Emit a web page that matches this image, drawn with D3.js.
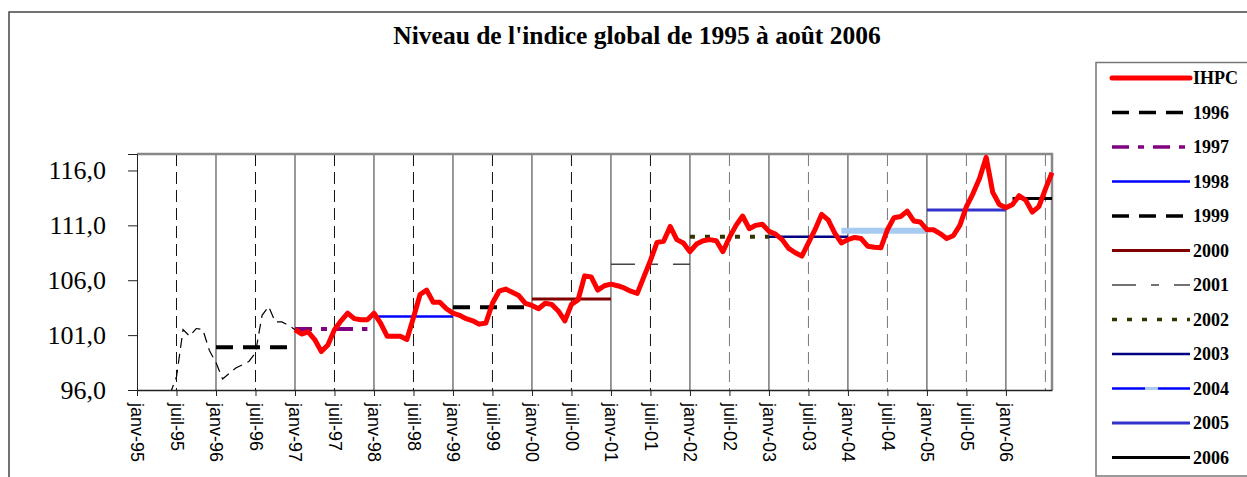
<!DOCTYPE html>
<html>
<head>
<meta charset="utf-8">
<script src="https://cdn.jsdelivr.net/npm/d3@7"></script>
<style>
  body { margin: 0; background: #fff; }
  svg { display: block; }
</style>
</head>
<body>
<div></div>
<script>
const width = 1247;
const height = 477;

// mois comptés depuis janv-95 (0)
const xTickLabels = [
  "janv-95", "juil-95", "janv-96", "juil-96", "janv-97", "juil-97",
  "janv-98", "juil-98", "janv-99", "juil-99", "janv-00", "juil-00",
  "janv-01", "juil-01", "janv-02", "juil-02", "janv-03", "juil-03",
  "janv-04", "juil-04", "janv-05", "juil-05", "janv-06"
];
const yTicks = [96, 101, 106, 111, 116];

// ancienne série (pointillé fin), de juin 95 à janv 97
const oldStart = 5;
const oldValues = [
  95.6, 97.2, 101.5, 100.9, 101.6, 101.5, 99.6, 98.5, 97.0, 97.5,
  98.0, 98.3, 98.6, 99.4, 102.8, 103.6, 102.2, 102.2, 101.9, 101.5
];

// IHPC mensuel, de janv-97 à août-06
const ihpcStart = 24;
const ihpcValues = [
  101.5, 101.1, 101.3, 100.6, 99.5, 100.1, 101.5, 102.3, 103.0, 102.5, 102.4, 102.4,
  103.0, 102.1, 100.9, 100.9, 100.9, 100.6, 102.6, 104.7, 105.1, 104.0, 104.0, 103.4,
  103.0, 102.8, 102.5, 102.3, 102.0, 102.1, 103.9, 105.0, 105.2, 104.9, 104.6, 103.9,
  103.7, 103.4, 103.9, 103.8, 103.2, 102.3, 103.8, 104.2, 106.4, 106.3, 105.1, 105.5,
  105.65, 105.5, 105.3, 105.0, 104.8, 106.3, 107.8, 109.45, 109.55, 110.9, 109.7, 109.4,
  108.6, 109.3, 109.6, 109.7, 109.6, 108.6, 109.9, 111.0, 111.85, 110.7, 111.0, 111.1,
  110.45, 110.2, 109.7, 108.9, 108.5, 108.2, 109.4, 110.6, 112.0, 111.5, 110.3, 109.4,
  109.7, 109.9, 109.8, 109.1, 109.0, 108.95, 110.6, 111.7, 111.8, 112.3, 111.4, 111.3,
  110.6, 110.6, 110.25, 109.8, 110.05, 111.0, 112.7, 113.9, 115.3, 117.2, 114.0, 112.9,
  112.6, 112.9, 113.7, 113.3, 112.2, 112.7, 114.3, 115.8
];

// moyennes annuelles
const avgYears = ["1996", "1997", "1998", "1999", "2000", "2001", "2002", "2003", "2004", "2005", "2006"];
const avgValues = [99.9, 101.55, 102.7, 103.55, 104.3, 107.45, 109.95, 109.95, 110.5, 112.4, 113.45];
const avgFrom = [12, 24, 36, 48, 60, 72, 84, 96, 107, 120, 133];
const avgTo = [23, 35, 48, 59, 72, 84, 96, 108, 120, 132, 139];

const avgStyles = {
  "1996": { color: "#000", w: 4, dash: "17,10" },
  "1997": { color: "#800080", w: 4, dash: "17,9,6,9" },
  "1998": { color: "#0000ff", w: 2.5, dash: null },
  "1999": { color: "#000", w: 4, dash: "17,10" },
  "2000": { color: "#800000", w: 3, dash: null },
  "2001": { color: "#444", w: 1.5, dash: "24,15,8,15" },
  "2002": { color: "#333300", w: 4, dash: "5,10" },
  "2003": { color: "#000080", w: 2.5, dash: null },
  "2004": { color: "#a6caf0", w: 6, dash: null },
  "2005": { color: "#3333cc", w: 3, dash: null },
  "2006": { color: "#000", w: 3, dash: null }
};

const svg = d3.select("div").append("svg")
  .attr("width", width)
  .attr("height", height);

// cadre du graphique
svg.append("rect")
  .attr("x", 9).attr("y", 12)
  .attr("width", width + 10).attr("height", height)
  .attr("fill", "none").attr("stroke", "#444").attr("stroke-width", 1.5);

svg.append("text")
  .attr("x", 637).attr("y", 44)
  .attr("text-anchor", "middle")
  .attr("font-family", "Liberation Serif, Times New Roman, serif")
  .attr("font-weight", "bold")
  .attr("font-size", 25.5)
  .text("Niveau de l'indice global de 1995 à août 2006");

const x = d3.scaleLinear().domain([0, 139]).range([137, 1052]);
const y = d3.scaleLinear().domain([96, 117.5]).range([390, 154]);

svg.append("clipPath").attr("id", "plot")
  .append("rect")
  .attr("x", x(0)).attr("y", y(117.5))
  .attr("width", x(139) - x(0)).attr("height", y(96) - y(117.5));

// grille verticale : janv en trait plein, juil en tirets
const gridMonths = d3.range(6, 139, 6);
svg.append("g").selectAll("line")
  .data(gridMonths)
  .join("line")
  .attr("x1", (d) => x(d)).attr("x2", (d) => x(d))
  .attr("y1", y(117.5)).attr("y2", y(96))
  .attr("stroke", (d) => (d % 12 === 0 ? "#333" : d >= 90 ? "#777" : "#111"))
  .attr("stroke-width", 1)
  .attr("stroke-dasharray", (d) => (d % 12 === 0 ? null : "12,6"));

// bord haut et droit de la zone de tracé
svg.append("path")
  .attr("d", `M${x(0)},${y(117.5)}H${x(139)}V${y(96)}`)
  .attr("fill", "none").attr("stroke", "#888").attr("stroke-width", 2.5);

// axe y
const yAxis = d3.axisLeft(y)
  .tickValues(yTicks)
  .tickSize(9)
  .tickPadding(22)
  .tickFormat((d) => d3.format(".1f")(d).replace(".", ","));

const gy = svg.append("g")
  .attr("transform", `translate(${x(0)},0)`)
  .call(yAxis);
gy.select(".domain").attr("stroke", "#222");
gy.selectAll(".tick line").attr("stroke", "#222");
gy.selectAll("text")
  .attr("font-family", "Liberation Serif, Times New Roman, serif")
  .attr("font-size", 26)
  .attr("fill", "#000");

// axe x
const xAxis = d3.axisBottom(x)
  .tickValues(xTickLabels.map((d, i) => i * 6))
  .tickSize(6)
  .tickSizeOuter(0)
  .tickFormat((d) => xTickLabels[d / 6]);

const gx = svg.append("g")
  .attr("transform", `translate(0,${y(96)})`)
  .call(xAxis);
gx.select(".domain").attr("stroke", "#222").attr("stroke-width", 1.5);
gx.selectAll(".tick line").attr("stroke", "#222");
gx.selectAll("text")
  .attr("font-family", "Liberation Sans, Arial, sans-serif")
  .attr("font-size", 18)
  .attr("fill", "#000")
  .attr("text-anchor", "start")
  .attr("transform", "rotate(90)")
  .attr("x", 13)
  .attr("y", 0)
  .attr("dy", "0.35em");

const plot = svg.append("g").attr("clip-path", "url(#plot)");

const line = d3.line()
  .x((d) => x(d[0]))
  .y((d) => y(d[1]));

// ancienne série
plot.append("path")
  .datum(oldValues.map((v, i) => [oldStart + i, v]))
  .attr("d", line)
  .attr("fill", "none")
  .attr("stroke", "#000")
  .attr("stroke-width", 1.2)
  .attr("stroke-dasharray", "10,6");

// moyennes annuelles
svg.append("g").selectAll("line")
  .data(avgYears)
  .join("line")
  .attr("x1", (d, i) => x(avgFrom[i]))
  .attr("x2", (d, i) => x(avgTo[i]))
  .attr("y1", (d, i) => y(avgValues[i]))
  .attr("y2", (d, i) => y(avgValues[i]))
  .attr("stroke", (d) => avgStyles[d].color)
  .attr("stroke-width", (d) => avgStyles[d].w)
  .attr("stroke-dasharray", (d) => avgStyles[d].dash);

// IHPC
svg.append("path")
  .datum(ihpcValues.map((v, i) => [ihpcStart + i, v]))
  .attr("d", line)
  .attr("fill", "none")
  .attr("stroke", "#ff0000")
  .attr("stroke-width", 5)
  .attr("stroke-linejoin", "round");

// légende
const legend = svg.append("g").attr("id", "legend");
legend.append("rect")
  .attr("x", 1096).attr("y", 62.5)
  .attr("width", 200).attr("height", 413.5)
  .attr("fill", "#fff").attr("stroke", "#777").attr("stroke-width", 1.5);

const legendItems = ["IHPC"].concat(avgYears);
const ly = (i) => 78 + i * 34.5;

const item = legend.selectAll("g.item")
  .data(legendItems)
  .join("g")
  .attr("class", "item")
  .attr("transform", (d, i) => `translate(0,${ly(i)})`);

item.append("line")
  .attr("x1", 1112).attr("x2", 1190)
  .attr("stroke", (d) => (d === "IHPC" ? "#ff0000" : d === "2004" ? "#0000ff" : avgStyles[d].color))
  .attr("stroke-width", (d) => (d === "IHPC" ? 5 : d === "2004" ? 2.5 : Math.min(avgStyles[d].w, 3.5)))
  .attr("stroke-linecap", (d) => (d === "IHPC" ? "round" : null))
  .attr("stroke-dasharray", (d) => (d === "IHPC" ? null : avgStyles[d].dash));

item.filter((d) => d === "2004").append("line")
  .attr("x1", 1145).attr("x2", 1158)
  .attr("stroke", avgStyles["2004"].color)
  .attr("stroke-width", 3);

item.append("text")
  .attr("x", 1193).attr("y", 0)
  .attr("dy", "0.35em")
  .attr("font-family", "Liberation Serif, Times New Roman, serif")
  .attr("font-weight", "bold")
  .attr("font-size", 18)
  .text((d) => d);
</script>
</body>
</html>
